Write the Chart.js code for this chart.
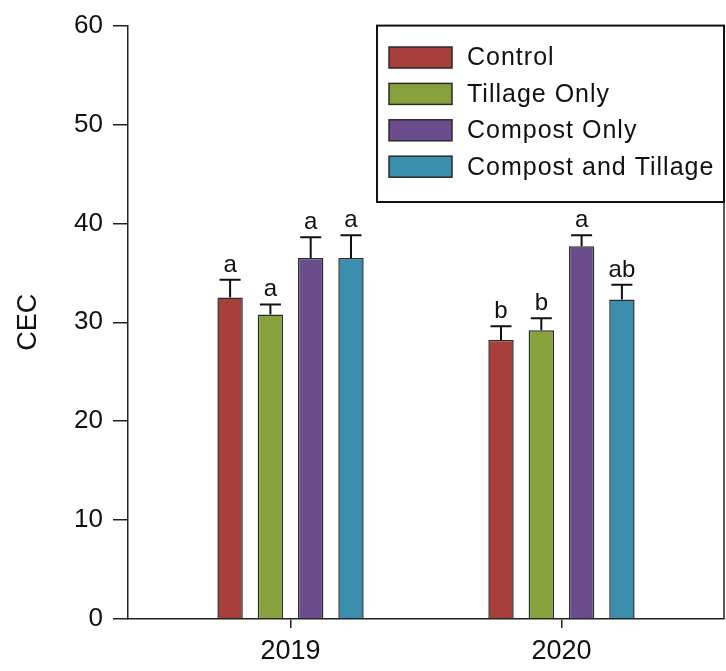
<!DOCTYPE html>
<html>
<head>
<meta charset="utf-8">
<script src="https://cdn.jsdelivr.net/npm/chart.js@4"></script>
<style>
  html, body { margin: 0; padding: 0; background: #fff; }
  #wrap { width: 726px; height: 671px; }
</style>
</head>
<body>
<div id="wrap"><canvas id="cec" width="726" height="671"></canvas></div>
<script>
// Sampling years and treatments
const years = [2019, 2020];
const seriesNames = ['Control', 'Tillage Only', 'Compost Only', 'Compost and Tillage'];
const seriesColors = ['#a73f3b', '#87a23d', '#6b4d8d', '#3a8fae'];

// Mean CEC per treatment, one value per year
const controlMean = [32.5, 28.2];
const tillageMean = [30.8, 29.2];
const compostMean = [36.5, 37.7];
const compTillMean = [36.5, 32.3];

// Standard error (upper bar only)
const controlErr = [1.8, 1.4];
const tillageErr = [1.0, 1.2];
const compostErr = [2.1, 1.1];
const compTillErr = [2.3, 1.5];

// Significance letters
const controlSig = ['a', 'b'];
const tillageSig = ['a', 'b'];
const compostSig = ['a', 'a'];
const compTillSig = ['a', 'ab'];

// Axis ticks
const yTicks = [0, 10, 20, 30, 40, 50, 60];
const xTicks = years;

const FONT = '"Liberation Sans", Arial, sans-serif';
const means = [controlMean, tillageMean, compostMean, compTillMean];
const errs = [controlErr, tillageErr, compostErr, compTillErr];
const sigs = [controlSig, tillageSig, compostSig, compTillSig];

const datasets = seriesNames.map((name, i) => ({
  label: name,
  data: years.map((yr, j) => ({ x: yr, y: means[i][j] })),
  errors: errs[i],
  letters: sigs[i],
  backgroundColor: seriesColors[i],
  borderColor: '#2b2b2b',
  borderWidth: 1.5,
  borderSkipped: 'bottom',
  categoryPercentage: 0.595,
  barPercentage: 0.63
}));

// Upper error bars with significance letters above them
const errorBarPlugin = {
  id: 'errorBars',
  afterDatasetsDraw(chart) {
    const ctx = chart.ctx;
    const yScale = chart.scales.y;
    ctx.save();
    ctx.strokeStyle = '#111';
    ctx.lineWidth = 2;
    ctx.fillStyle = '#111';
    ctx.font = '24px ' + FONT;
    ctx.textAlign = 'center';
    ctx.textBaseline = 'alphabetic';
    chart.data.datasets.forEach((ds, di) => {
      const meta = chart.getDatasetMeta(di);
      meta.data.forEach((bar, j) => {
        const v = ds.data[j].y;
        const e = ds.errors[j];
        const yTop = yScale.getPixelForValue(v + e);
        const yBar = yScale.getPixelForValue(v);
        ctx.beginPath();
        ctx.moveTo(bar.x, yBar);
        ctx.lineTo(bar.x, yTop);
        ctx.moveTo(bar.x - 10.5, yTop);
        ctx.lineTo(bar.x + 10.5, yTop);
        ctx.stroke();
        ctx.fillText(ds.letters[j], bar.x, yTop - 8);
      });
    });
    ctx.restore();
  }
};

// Right frame line and boxed legend in the upper right corner
const framePlugin = {
  id: 'frameLegend',
  afterDraw(chart) {
    const ctx = chart.ctx;
    const a = chart.chartArea;
    ctx.save();
    ctx.strokeStyle = '#222';
    ctx.lineWidth = 1.5;
    ctx.beginPath();
    ctx.moveTo(a.right, a.top);
    ctx.lineTo(a.right, a.bottom);
    ctx.stroke();

    const boxL = 377, boxT = a.top, boxR = a.right, boxB = 202;
    ctx.fillStyle = '#fff';
    ctx.fillRect(boxL, boxT, boxR - boxL, boxB - boxT);
    ctx.lineWidth = 2;
    ctx.strokeStyle = '#111';
    ctx.strokeRect(boxL, boxT, boxR - boxL, boxB - boxT);

    ctx.font = '25px ' + FONT;
    ctx.textBaseline = 'middle';
    ctx.textAlign = 'left';
    if ('letterSpacing' in ctx) ctx.letterSpacing = '1px';
    chart.data.datasets.forEach((ds, i) => {
      const cy = 57.5 + i * 36.4;
      ctx.fillStyle = ds.backgroundColor;
      ctx.fillRect(389, cy - 10.5, 63, 21);
      ctx.lineWidth = 1.5;
      ctx.strokeStyle = '#2b2b2b';
      ctx.strokeRect(389, cy - 10.5, 63, 21);
      ctx.fillStyle = '#111';
      ctx.fillText(ds.label, 467, cy + 1);
    });
    ctx.restore();
  }
};

new Chart(document.getElementById('cec'), {
  type: 'bar',
  data: { datasets },
  options: {
    responsive: false,
    animation: false,
    layout: { padding: { top: 22, right: 2, left: 0, bottom: 0 } },
    plugins: {
      legend: { display: false },
      tooltip: { enabled: false }
    },
    scales: {
      x: {
        type: 'linear',
        offset: false,
        min: 2018.4,
        max: 2020.6,
        afterBuildTicks(scale) { scale.ticks = xTicks.map(v => ({ value: v })); },
        afterFit(scale) { scale.height = 52; },
        ticks: {
          callback: v => String(v),
          color: '#111',
          font: { family: FONT, size: 27 },
          padding: 7,
          maxRotation: 0,
          autoSkip: false
        },
        grid: { offset: false, drawOnChartArea: false, tickLength: 9, color: '#222', lineWidth: 1.5 },
        border: { color: '#222', width: 1.5 }
      },
      y: {
        min: 0,
        max: 60,
        afterBuildTicks(scale) { scale.ticks = yTicks.map(v => ({ value: v })); },
        afterFit(scale) { scale.width = 128; },
        ticks: {
          color: '#111',
          font: { family: FONT, size: 26 },
          padding: 10
        },
        grid: { drawOnChartArea: false, tickLength: 15, color: '#222', lineWidth: 1.5 },
        border: { color: '#222', width: 1.5 },
        title: {
          display: true,
          text: 'CEC',
          color: '#111',
          font: { family: FONT, size: 27 },
          padding: { top: 12, bottom: 0 }
        }
      }
    }
  },
  plugins: [errorBarPlugin, framePlugin]
});
</script>
</body>
</html>
